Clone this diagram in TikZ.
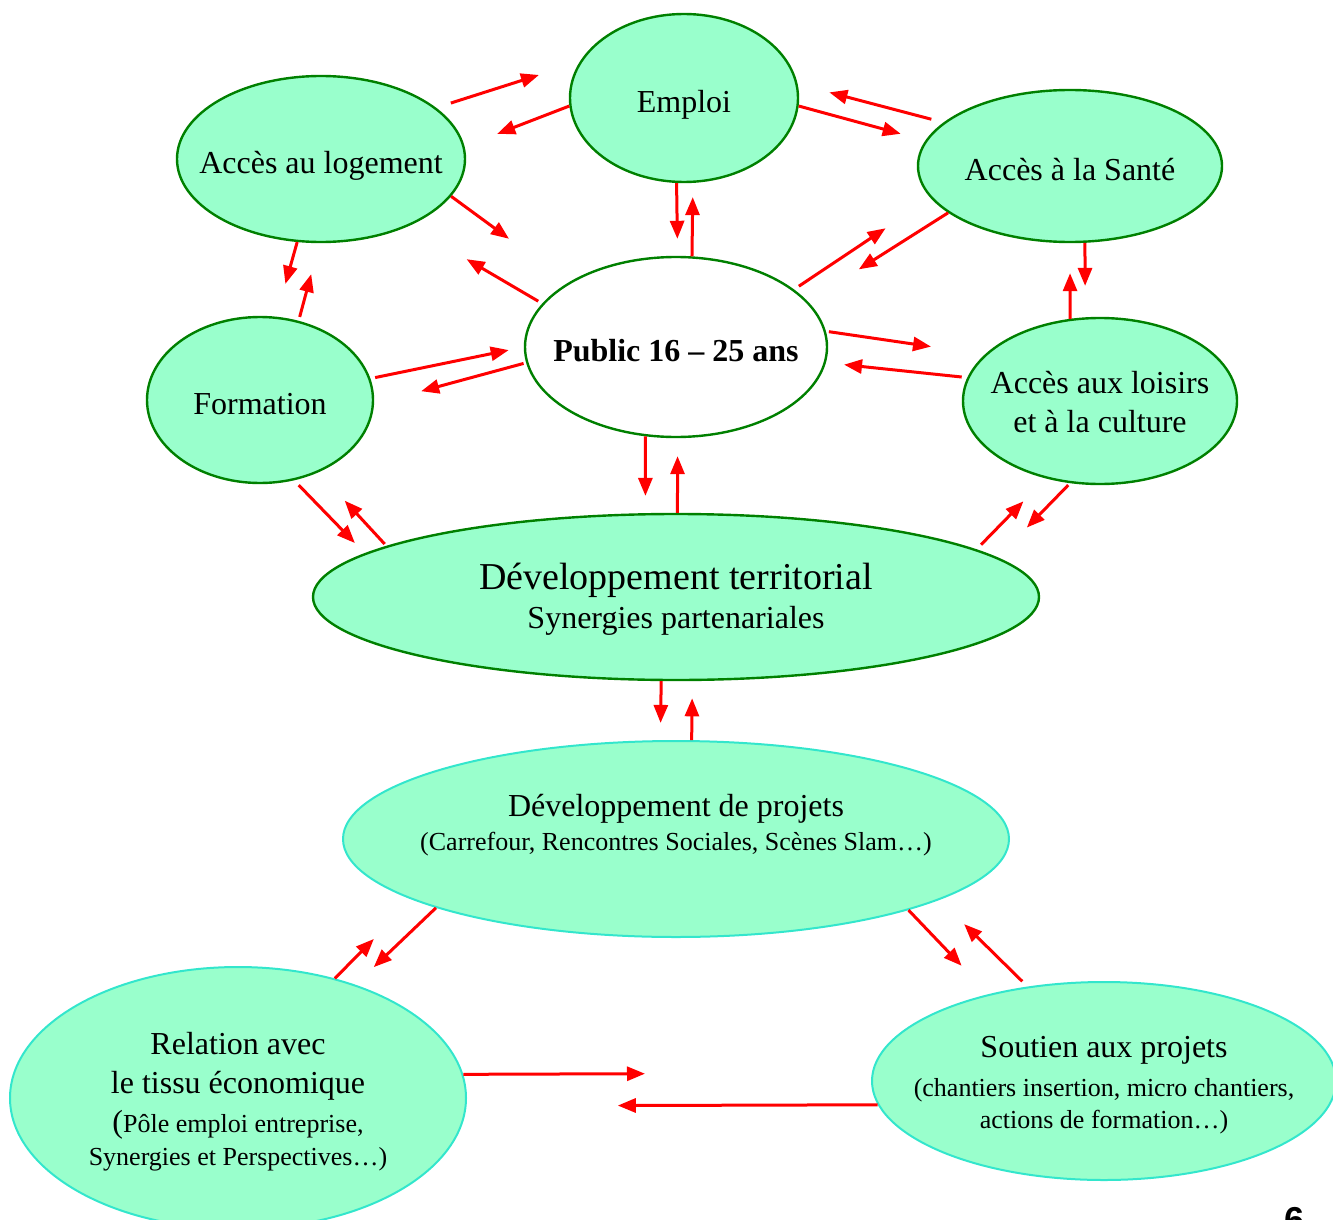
\documentclass[tikz,border=0pt]{standalone}
\usepackage{fontspec}
\setmainfont{Liberation Serif}
\setsansfont{Liberation Sans}
\usetikzlibrary{shapes.geometric,arrows.meta}
\definecolor{mint}{RGB}{153,255,204}
\definecolor{leaf}{RGB}{0,128,0}
\definecolor{aqua}{RGB}{51,230,204}
\newcommand{\petit}{\fontsize{13}{16.5}\selectfont}
\newcommand{\topstrut}{\rule{0pt}{1.12em}}
\newcommand{\botstrut}{\rule[-0.22em]{0pt}{0.22em}}
\newcommand{\up}{\rule{0pt}{1em}}
\tikzstyle{theme} = [ellipse, draw=leaf, line width=1.2pt, fill=mint, inner xsep=-30pt, inner ysep=0pt, align=center, font=\fontsize{16}{19.5}\selectfont,
	execute at begin node=\topstrut, execute at end node=\botstrut]
\tikzstyle{project} = [theme, draw=aqua, line width=1pt]
\tikzstyle{link} = [red, line width=1.5pt, -{Triangle[length=9pt,width=7pt]}]

\begin{document}
\begin{tikzpicture}[x=0.5pt, y=-0.5pt]
	\useasboundingbox (0,0) rectangle (1333,1220);
	\node[theme, minimum width=114pt, minimum height=84pt] (emploi) at (684,98) {Emploi};
	\node[theme, minimum width=144pt, minimum height=83pt] (logement) at (321,159) {Accès au logement};
	\node[theme, minimum width=152pt, minimum height=76pt] (sante) at (1070,166) {Accès à la Santé};
	\node[theme, fill=white, minimum width=151pt, minimum height=90pt] (public) at (676,347) {\textbf{Public 16 -- 25 ans}};
	\node[theme, minimum width=113pt, minimum height=83pt] (formation) at (260,400) {Formation};
	\node[theme, minimum width=137pt, minimum height=83pt] (loisirs) at (1100,401) {\up Accès aux loisirs\\ et à la culture};
	\node[theme, minimum width=363pt, minimum height=83pt] (territorial) at (676,597) {\up{\fontsize{19}{22}\selectfont Développement territorial}\\ Synergies partenariales};
	\node[project, minimum width=333pt, minimum height=98pt] (projets) at (676,839) {Développement de projets\\[-2.5pt] {\petit (Carrefour, Rencontres Sociales, Scènes Slam…)}\\[-6pt] \mbox{}};
	\node[project, minimum width=228pt, minimum height=131pt] (relation) at (238,1098) {\up Relation avec\\ le tissu économique\\ (\petit Pôle emploi entreprise,\\[-3pt] {\petit Synergies et Perspectives…)}};
	\node[project, minimum width=232pt, minimum height=99pt] (soutien) at (1104,1081) {\up Soutien aux projets\\ {\petit (chantiers insertion, micro chantiers,}\\[-3.5pt] {\petit actions de formation…)}};
	\node[anchor=north, inner sep=0pt, font=\sffamily\bfseries\fontsize{18}{18}\selectfont] (pagenum) at (1294,1207) {6};

	\draw[link, shorten <=7.7pt, shorten >=21.3pt] (logement.24) -- (emploi.161);
	\draw[link, shorten >=17.5pt] (emploi.184) -- (logement.5);
	\draw[link, shorten >=12.8pt] (emploi.356) -- (sante.170);
	\draw[link, shorten <=6.3pt, shorten >=16.4pt] (sante.161) -- (emploi.7);
	\draw[link, shorten >=8.5pt] (emploi.265) -- (public.89);
	\draw[link, shorten >=7.1pt] (public.80) -- (emploi.276);
	\draw[link, shorten >=36.9pt] (logement.344) -- (public.149);
	\draw[link, shorten <=2.3pt, shorten >=33.1pt] (public.162) -- (logement.323);
	\draw[link, shorten <=2.9pt, shorten >=27.1pt] (public.26) -- (sante.193);
	\draw[link, shorten >=30.1pt] (sante.201) -- (public.19);
	\draw[link, shorten >=17pt] (logement.254) -- (formation.79);
	\draw[link, shorten <=2pt, shorten >=16pt] (formation.64) -- (logement.269);
	\draw[link, shorten <=2.4pt, shorten >=7.7pt] (formation.11) -- (public.180);
	\draw[link, shorten <=1.3pt, shorten >=24.4pt] (public.186) -- (formation.358);
	\draw[link, shorten <=1.5pt, shorten >=27.2pt] (public.6) -- (loisirs.158);
	\draw[link, shorten <=2.8pt, shorten >=9.1pt] (loisirs.170) -- (public.354);
	\draw[link, shorten >=15.7pt] (sante.281) -- (loisirs.100);
	\draw[link, shorten >=15pt] (loisirs.110) -- (sante.270);
	\draw[link, shorten >=8.6pt] (public.251) -- (territorial.110);
	\draw[link, shorten >=9pt] (territorial.89) -- (public.271);
	\draw[link, shorten <=3.3pt, shorten >=7.1pt] (formation.293) -- (territorial.172);
	\draw[link, shorten <=1.3pt, shorten >=19.3pt] (territorial.170) -- (formation.309);
	\draw[link, shorten <=3.3pt, shorten >=16pt] (territorial.9) -- (loisirs.235);
	\draw[link, shorten <=1.3pt, shorten >=20.9pt] (loisirs.250) -- (territorial.7);
	\draw[link, shorten >=8.6pt] (territorial.260) -- (projets.99);
	\draw[link, shorten >=8.6pt] (projets.81) -- (territorial.281);
	\draw[link, shorten >=12.7pt] (projets.196) -- (relation.44);
	\draw[link, shorten >=27.5pt] (relation.51) -- (projets.193);
	\draw[link, shorten >=19.6pt] (projets.343) -- (soutien.143);
	\draw[link, shorten <=3.7pt, shorten >=17.3pt] (soutien.129) -- (projets.347);
	\draw[link, shorten >=113.4pt] (relation.6) -- (soutien.178);
	\draw[link, shorten >=75.6pt] (soutien.186) -- (relation.358);
\end{tikzpicture}
\end{document}
